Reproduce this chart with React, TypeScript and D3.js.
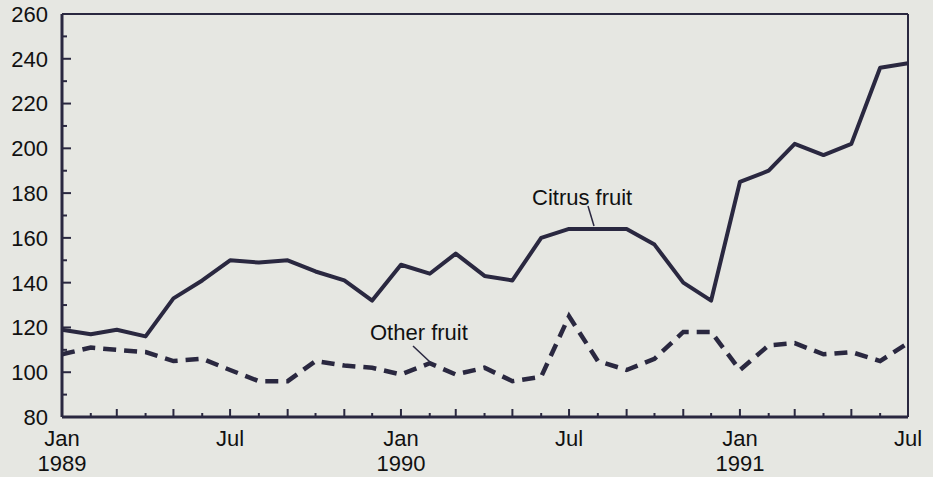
import React from 'react';
import * as d3 from 'd3';

// monthly index values, Jan 1989 .. Jul 1991
const months = d3.timeMonth.range(new Date(1989, 0, 1), new Date(1991, 7, 1));
const citrus = [119, 117, 119, 116, 133, 141, 150, 149, 150, 145, 141, 132,
  148, 144, 153, 143, 141, 160, 164, 164, 164, 157, 140, 132,
  185, 190, 202, 197, 202, 236, 238];
const other = [108, 111, 110, 109, 105, 106, 101, 96, 96, 105, 103, 102,
  99, 104, 99, 102, 96, 98, 125, 105, 101, 106, 118, 118,
  101, 112, 113, 108, 109, 105, 113];
const yTicks = [80, 100, 120, 140, 160, 180, 200, 220, 240, 260];
const xLabels = [
  { date: new Date(1989, 0, 1), month: 'Jan', year: '1989' },
  { date: new Date(1989, 6, 1), month: 'Jul', year: '' },
  { date: new Date(1990, 0, 1), month: 'Jan', year: '1990' },
  { date: new Date(1990, 6, 1), month: 'Jul', year: '' },
  { date: new Date(1991, 0, 1), month: 'Jan', year: '1991' },
  { date: new Date(1991, 6, 1), month: 'Jul', year: '' },
];

const W = 933, H = 477;
const left = 62, right = 908, top = 14, bottom = 417;
const ink = '#2a2840';
const font = '"Liberation Sans", Arial, sans-serif';

export default function App() {
  const x = d3.scaleTime().domain([months[0], months[months.length - 1]]).range([left, right]);
  const y = d3.scaleLinear().domain([80, 260]).range([bottom, top]);

  const line = d3.line<number>()
    .x((_, i) => x(months[i]))
    .y(d => y(d));

  const minorY = d3.range(90, 260, 20);

  return (
    <svg width={W} height={H} style={{ position: 'absolute', left: 0, top: 0 }}>
      <rect width={W} height={H} fill="#e6e7e2" />

      {/* frame */}
      <line x1={left} x2={right} y1={top} y2={top} stroke={ink} strokeWidth={2} />
      <line x1={right} x2={right} y1={top} y2={bottom} stroke={ink} strokeWidth={2} />

      {/* y ticks */}
      {yTicks.map(t => (
        <g key={t}>
          <line x1={left} x2={left + 9} y1={y(t)} y2={y(t)} stroke={ink} strokeWidth={2} />
          <text x={48} y={y(t)} dy="0.36em" textAnchor="end" fontFamily={font} fontSize={22} fill="#111">{t}</text>
        </g>
      ))}
      {minorY.map(t => (
        <line key={t} x1={left} x2={left + 5} y1={y(t)} y2={y(t)} stroke={ink} strokeWidth={2} />
      ))}

      {/* month ticks */}
      {months.map((m, i) => (
        <line key={i} x1={x(m)} x2={x(m)} y1={bottom} y2={bottom - (i % 2 === 0 ? 8 : 4)} stroke={ink} strokeWidth={2} />
      ))}

      {xLabels.map((l, i) => (
        <g key={i} fontFamily={font} fontSize={22} fill="#111" textAnchor="middle">
          <text x={x(l.date)} y={446}>{l.month}</text>
          {l.year && <text x={x(l.date)} y={471}>{l.year}</text>}
        </g>
      ))}

      {/* series */}
      <path d={line(other) || ''} fill="none" stroke={ink} strokeWidth={4.5} strokeDasharray="13 8" />
      <path d={line(citrus) || ''} fill="none" stroke={ink} strokeWidth={4} strokeLinejoin="round" />

      {/* axes */}
      <line x1={left} x2={left} y1={top} y2={bottom} stroke={ink} strokeWidth={3} />
      <line x1={left} x2={right} y1={bottom} y2={bottom} stroke={ink} strokeWidth={3} />

      {/* labels */}
      <text x={532} y={205} fontFamily={font} fontSize={22} fill="#111">Citrus fruit</text>
      <line x1={588} x2={594} y1={206} y2={226} stroke={ink} strokeWidth={1.5} />
      <text x={370} y={340} fontFamily={font} fontSize={22} fill="#111">Other fruit</text>
      <line x1={413} x2={430} y1={346} y2={362} stroke={ink} strokeWidth={1.5} />
    </svg>
  );
}
